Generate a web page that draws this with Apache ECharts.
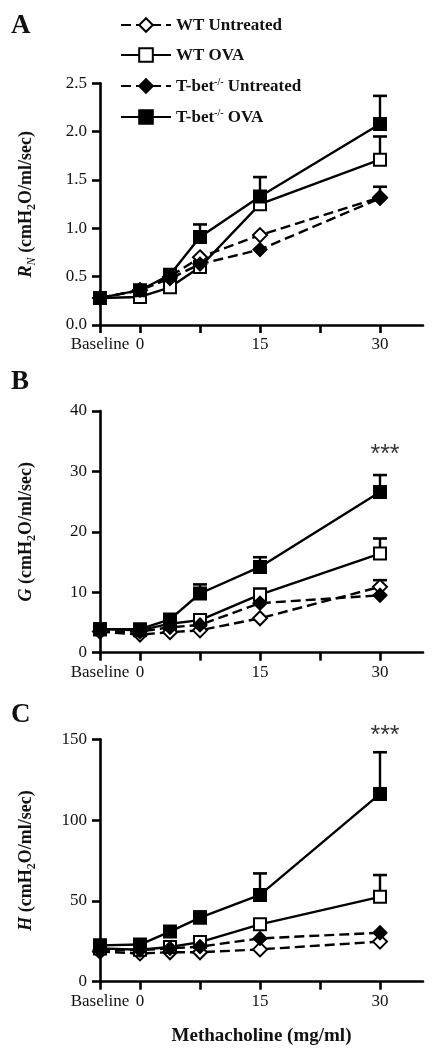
<!DOCTYPE html>
<html><head><meta charset="utf-8">
<script src="https://cdn.jsdelivr.net/npm/echarts@6/dist/echarts.min.js"></script>
<style>html,body{margin:0;padding:0;background:#fff}#c{width:438px;height:1050px}</style>
</head><body><div id="c"></div>
<script>
// x positions of doses (Baseline drawn left of 0)
const doseX = [-5, 0, 3.75, 7.5, 15, 30];
const xTickValues = [-5, 0, 7.5, 15, 22.5, 30];
const xLabelValues = [-5, 0, 15, 30];
const xLabelNames = {'-5': 'Baseline', '0': '0', '15': '15', '30': '30'};

const groupNames = ['WT Untreated', 'WT OVA', 'T-bet-/- Untreated', 'T-bet-/- OVA'];

// Panel A: R_N
const A_wtUnt = [0.28, 0.36, 0.50, 0.70, 0.93, 1.32];
const A_wtOva = [0.28, 0.29, 0.39, 0.60, 1.25, 1.71];
const A_tbUnt = [0.28, 0.36, 0.48, 0.63, 0.78, 1.31];
const A_tbOva = [0.28, 0.36, 0.52, 0.91, 1.33, 2.08];
const A_wtUntErr = [null, null, null, null, null, null];
const A_wtOvaErr = [null, null, null, null, null, 1.95];
const A_tbUntErr = [null, null, null, null, null, 1.43];
const A_tbOvaErr = [null, null, null, 1.04, 1.53, 2.37];

// Panel B: G
const B_wtUnt = [3.5, 3.0, 3.4, 3.7, 5.7, 10.9];
const B_wtOva = [3.9, 3.7, 4.8, 5.4, 9.6, 16.4];
const B_tbUnt = [3.5, 3.5, 4.2, 4.6, 8.2, 9.5];
const B_tbOva = [3.9, 3.9, 5.5, 9.8, 14.2, 26.6];
const B_wtUntErr = [null, null, null, null, null, 12.0];
const B_wtOvaErr = [null, null, null, null, 10.6, 18.9];
const B_tbUntErr = [null, null, null, null, null, null];
const B_tbOvaErr = [null, null, null, 11.3, 15.8, 29.4];

// Panel C: H
const C_wtUnt = [18.6, 17.5, 18.2, 18.2, 20.0, 24.8];
const C_wtOva = [20.6, 19.8, 21.5, 24.5, 35.5, 52.5];
const C_tbUnt = [19.6, 19.6, 20.6, 21.7, 26.8, 30.3];
const C_tbOva = [22.5, 23.0, 31.0, 39.6, 53.7, 116.2];
const C_wtUntErr = [null, null, null, null, null, null];
const C_wtOvaErr = [null, null, null, null, null, 66];
const C_tbUntErr = [null, null, null, null, null, null];
const C_tbOvaErr = [null, null, null, 43.5, 67, 142];

// y axes
const yMax = [2.5, 40, 150];
const yInterval = [0.5, 10, 50];
const yVar = ['R', 'G', 'H'];
const yVarSub = ['N', '', ''];

// significance marks [panel, x, y, text]
const sigMarks = [[1, 30, 33.5, '***'], [2, 30, 155, '***']];

const panelValues = [
  [A_wtUnt, A_wtOva, A_tbUnt, A_tbOva],
  [B_wtUnt, B_wtOva, B_tbUnt, B_tbOva],
  [C_wtUnt, C_wtOva, C_tbUnt, C_tbOva]
];
const panelErr = [
  [A_wtUntErr, A_wtOvaErr, A_tbUntErr, A_tbOvaErr],
  [B_wtUntErr, B_wtOvaErr, B_tbUntErr, B_tbOvaErr],
  [C_wtUntErr, C_wtOvaErr, C_tbUntErr, C_tbOvaErr]
];

const FONT = "'Liberation Serif', 'Times New Roman', serif";
const styles = [
  {symbol: 'diamond', size: 14, fill: '#fff', dash: [10, 5]},
  {symbol: 'rect', size: 12, fill: '#fff', dash: 'solid'},
  {symbol: 'diamond', size: 13, fill: '#000', dash: [10, 5]},
  {symbol: 'rect', size: 12, fill: '#000', dash: 'solid'}
];

const gridTops = [83.3, 411, 739.3];
const gridHeights = [241.7, 241.7, 242.4];

const grids = gridTops.map((t, i) => ({left: 100, right: 15, top: t, height: gridHeights[i], outerBoundsMode: 'none', containLabel: false}));

const xAxes = gridTops.map((t, i) => ({
  type: 'value', gridIndex: i, min: -5, max: 35.375,
  axisLine: {onZero: false, lineStyle: {color: '#000', width: 2.6}},
  axisTick: {show: true, length: 8, lineStyle: {color: '#000', width: 2.6}, customValues: xTickValues},
  axisLabel: {customValues: xLabelValues, formatter: v => xLabelNames[String(v)] || '', color: '#111', fontFamily: FONT, fontSize: 17, margin: 11},
  splitLine: {show: false},
  name: i === 2 ? 'Methacholine (mg/ml)' : '',
  nameLocation: 'middle', nameGap: 45,
  nameTextStyle: {fontFamily: FONT, fontSize: 19, fontWeight: 'bold', color: '#111'}
}));

const yAxes = gridTops.map((t, i) => ({
  type: 'value', gridIndex: i, min: 0, max: yMax[i], interval: yInterval[i],
  axisLine: {show: true, onZero: false, lineStyle: {color: '#000', width: 2.6}},
  axisTick: {show: true, length: 8, lineStyle: {color: '#000', width: 2.6}},
  axisLabel: {color: '#111', fontFamily: FONT, fontSize: 17, margin: 13,
    formatter: v => i === 0 ? v.toFixed(1) : String(v)},
  splitLine: {show: false},
  name: '{i|' + yVar[i] + '}' + (yVarSub[i] ? '{si|' + yVarSub[i] + '}' : '') + '{b| (cmH}{s|2}{b|O/ml/sec)}',
  nameLocation: 'middle', nameRotate: 90, nameGap: 62,
  nameTextStyle: {
    fontFamily: FONT, color: '#111',
    rich: {
      i: {fontFamily: FONT, fontSize: 18, fontWeight: 'bold', fontStyle: 'italic', color: '#111', lineHeight: 24, verticalAlign: 'middle'},
      si: {fontFamily: FONT, fontSize: 12, fontStyle: 'italic', color: '#111', lineHeight: 24, verticalAlign: 'bottom'},
      b: {fontFamily: FONT, fontSize: 18, fontWeight: 'bold', color: '#111', lineHeight: 24, verticalAlign: 'middle'},
      s: {fontFamily: FONT, fontSize: 12, fontWeight: 'bold', color: '#111', lineHeight: 24, verticalAlign: 'bottom'}
    }
  }
}));

const series = [];
for (let p = 0; p < 3; p++) {
  for (let g = 0; g < 4; g++) {
    const st = styles[g];
    const errData = [];
    panelErr[p][g].forEach((u, k) => { if (u != null) errData.push([doseX[k], panelValues[p][g][k], u]); });
    if (errData.length) {
      series.push({
        type: 'custom', xAxisIndex: p, yAxisIndex: p, z: 1, silent: true,
        data: errData,
        renderItem: (params, api) => {
          const a = api.coord([api.value(0), api.value(1)]);
          const b = api.coord([api.value(0), api.value(2)]);
          return {type: 'group', children: [
            {type: 'line', shape: {x1: a[0], y1: a[1], x2: b[0], y2: b[1]}, style: {stroke: '#000', lineWidth: 2.4}},
            {type: 'line', shape: {x1: b[0] - 7, y1: b[1], x2: b[0] + 7, y2: b[1]}, style: {stroke: '#000', lineWidth: 2.6}}
          ]};
        }
      });
    }
    series.push({
      type: 'line', name: groupNames[g], xAxisIndex: p, yAxisIndex: p, z: 2 + g,
      data: doseX.map((x, k) => [x, panelValues[p][g][k]]),
      symbol: st.symbol, symbolSize: st.size, showAllSymbol: true,
      lineStyle: {color: '#000', width: 2.4, type: st.dash},
      itemStyle: {color: st.fill, borderColor: '#000', borderWidth: 2},
      emphasis: {disabled: true}, animation: false
    });
  }
}
sigMarks.forEach(m => {
  series.push({
    type: 'scatter', xAxisIndex: m[0], yAxisIndex: m[0], symbolSize: 0, clip: false, silent: true,
    data: [[m[1], m[2]]],
    label: {show: true, position: 'inside', formatter: m[3], offset: [5, 5], fontFamily: "'Liberation Sans', sans-serif", fontSize: 25, color: '#000'}
  });
});

const legendFormatter = name => {
  if (name.indexOf('T-bet-/-') === 0) {
    return '{t|T-bet}{s|-/-}{t|' + name.slice(8) + '}';
  }
  return '{t|' + name + '}';
};

const chart = echarts.init(document.getElementById('c'), null, {renderer: 'canvas'});
chart.setOption({
  animation: false,
  backgroundColor: '#fff',
  grid: grids, xAxis: xAxes, yAxis: yAxes,
  legend: {
    data: groupNames, orient: 'vertical', left: 115, top: 12,
    itemWidth: 50, itemHeight: 17, itemGap: 13, selectedMode: false,
    formatter: legendFormatter,
    textStyle: {
      fontFamily: FONT, fontSize: 17, fontWeight: 'bold', color: '#111',
      rich: {
        t: {fontFamily: FONT, fontSize: 17, fontWeight: 'bold', color: '#111', lineHeight: 18, verticalAlign: 'bottom'},
        s: {fontFamily: FONT, fontSize: 10, fontWeight: 'bold', color: '#111', lineHeight: 18, verticalAlign: 'top'}
      }
    }
  },
  graphic: [
    {type: 'text', left: 11, top: 13, style: {text: 'A', font: "bold 27px 'Liberation Serif'", fill: '#111'}},
    {type: 'text', left: 11, top: 369, style: {text: 'B', font: "bold 27px 'Liberation Serif'", fill: '#111'}},
    {type: 'text', left: 11, top: 702, style: {text: 'C', font: "bold 27px 'Liberation Serif'", fill: '#111'}}
  ],
  series: series
});
</script></body></html>
